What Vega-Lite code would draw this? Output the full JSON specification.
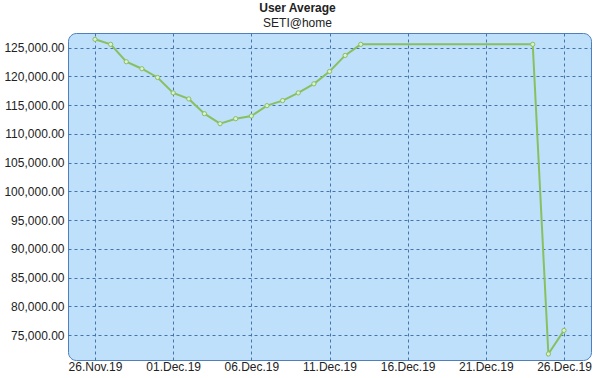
{
  "$schema": "https://vega.github.io/schema/vega-lite/v6.json",
  "autosize": "none",
  "width": 523,
  "height": 327,
  "padding": {"left": 68, "top": 33, "right": 9, "bottom": 18},
  "background": "#ffffff",
  "title": {
    "text": "User Average",
    "subtitle": "SETI@home",
    "font": "Liberation Sans",
    "fontSize": 12,
    "fontWeight": "bold",
    "color": "#222222",
    "subtitleFont": "Liberation Sans",
    "subtitleFontSize": 12,
    "subtitleColor": "#222222",
    "subtitlePadding": 3,
    "anchor": "middle",
    "dx": -32,
    "offset": 3
  },
  "config": {
    "view": {"fill": "#BEE0FB", "stroke": "#4F7FBF", "strokeWidth": 1, "cornerRadius": 8},
    "axis": {
      "labelFont": "Liberation Sans",
      "labelFontSize": 12,
      "labelColor": "#222222",
      "domain": false,
      "ticks": false,
      "gridColor": "#4474AE",
      "gridDash": [3, 3],
      "gridWidth": 1,
      "gridOpacity": 1,
      "title": null
    }
  },
  "data": {
    "values": [
      {"date": "2019-11-26", "value": 126450},
      {"date": "2019-11-27", "value": 125580},
      {"date": "2019-11-28", "value": 122550},
      {"date": "2019-11-29", "value": 121330},
      {"date": "2019-11-30", "value": 119810},
      {"date": "2019-12-01", "value": 117130},
      {"date": "2019-12-02", "value": 116080},
      {"date": "2019-12-03", "value": 113510},
      {"date": "2019-12-04", "value": 111770},
      {"date": "2019-12-05", "value": 112640},
      {"date": "2019-12-06", "value": 113110},
      {"date": "2019-12-07", "value": 114910},
      {"date": "2019-12-08", "value": 115790},
      {"date": "2019-12-09", "value": 117130},
      {"date": "2019-12-10", "value": 118710},
      {"date": "2019-12-11", "value": 120860},
      {"date": "2019-12-12", "value": 123650},
      {"date": "2019-12-13", "value": 125580},
      {"date": "2019-12-24", "value": 125580},
      {"date": "2019-12-25", "value": 71700},
      {"date": "2019-12-26", "value": 75800}
    ]
  },
  "mark": {
    "type": "line",
    "color": "#88C060",
    "strokeWidth": 2,
    "point": {"filled": true, "fill": "#DDEFD0", "stroke": "#88C060", "strokeWidth": 1, "size": 18}
  },
  "encoding": {
    "x": {
      "field": "date",
      "type": "temporal",
      "scale": {
        "type": "utc",
        "domain": [
          {"year": 2019, "month": 11, "date": 24, "hours": 6, "minutes": 33, "utc": true},
          {"year": 2019, "month": 12, "date": 27, "hours": 17, "minutes": 27, "utc": true}
        ]
      },
      "axis": {
        "values": [
          {"year": 2019, "month": 11, "date": 26, "utc": true},
          {"year": 2019, "month": 12, "date": 1, "utc": true},
          {"year": 2019, "month": 12, "date": 6, "utc": true},
          {"year": 2019, "month": 12, "date": 11, "utc": true},
          {"year": 2019, "month": 12, "date": 16, "utc": true},
          {"year": 2019, "month": 12, "date": 21, "utc": true},
          {"year": 2019, "month": 12, "date": 26, "utc": true}
        ],
        "labelExpr": "utcFormat(datum.value, '%d.%b.%y')",
        "labelPadding": 1,
        "labelFlush": false,
        "labelOverlap": false
      }
    },
    "y": {
      "field": "value",
      "type": "quantitative",
      "scale": {"domain": [70650, 127550], "nice": false, "zero": false},
      "axis": {
        "values": [75000, 80000, 85000, 90000, 95000, 100000, 105000, 110000, 115000, 120000, 125000],
        "format": ",.2f",
        "labelPadding": 4
      }
    }
  }
}
